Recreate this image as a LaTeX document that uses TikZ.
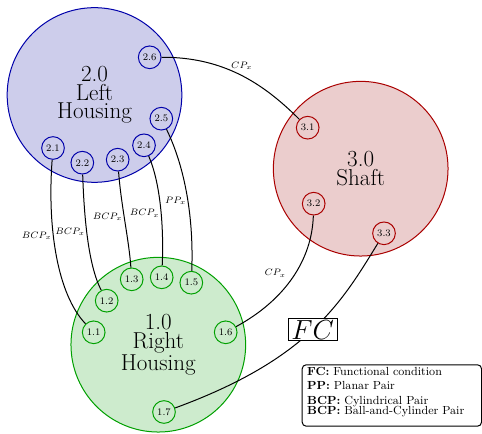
\documentclass[tikz,border=0pt]{standalone}
\usepackage{amsmath}
\usepackage{tikz}
\definecolor{lhdraw}{RGB}{0, 0, 170}
\definecolor{lhfill}{RGB}{205, 205, 235}
\definecolor{shdraw}{RGB}{170, 0, 0}
\definecolor{shfill}{RGB}{235, 205, 205}
\definecolor{rhdraw}{RGB}{0, 160, 0}
\definecolor{rhfill}{RGB}{205, 235, 205}
\tikzset{every picture/.style={line width=0.75pt}}
\tikzset{
  comp/.style={circle, minimum size=131pt, inner sep=0pt, align=center, font=\fontsize{17.28}{14}\selectfont},
  iface/.style={circle, minimum size=17pt, inner sep=0pt, font=\fontsize{7.5}{9}\selectfont},
  jlabel/.style={inner sep=1pt, font=\scriptsize},
  fcbox/.style={draw, fill=white, inner xsep=2.5pt, inner ysep=1.2pt, font=\fontsize{19.5}{22}\selectfont},
  legend/.style={draw, rounded corners=3pt, text width=127pt, align=left, inner xsep=3.75pt, inner ysep=1.7pt, font=\fontsize{8.8}{11}\selectfont}
}

\begin{document}
\begin{tikzpicture}[x=0.75pt,y=0.75pt,yscale=-1,xscale=1]
\useasboundingbox (0,0) rectangle (482,434);

%Shape: Circle [left housing]
\draw (94.5,95) node [comp, draw=lhdraw, fill=lhfill] (lh) {2.0\\Left\\Housing};
%Shape: Circle [shaft]
\draw (360.7,168.7) node [comp, draw=shdraw, fill=shfill] (sh) {3.0\\Shaft};
%Shape: Circle [right housing]
\draw (158.3,344.7) node [comp, draw=rhdraw, fill=rhfill] (rh) {1.0\\Right\\Housing};

% Surfaces of the left housing
\draw (53,148) node [iface, draw=lhdraw] (p21) {2.1};
\draw (82.3,162.7) node [iface, draw=lhdraw] (p22) {2.2};
\draw (117.7,159.7) node [iface, draw=lhdraw] (p23) {2.3};
\draw (144,145.3) node [iface, draw=lhdraw] (p24) {2.4};
\draw (161.3,118.7) node [iface, draw=lhdraw] (p25) {2.5};
\draw (149.7,57.3) node [iface, draw=lhdraw] (p26) {2.6};
% Surfaces of the shaft
\draw (307.7,127.7) node [iface, draw=shdraw] (p31) {3.1};
\draw (313.7,203.7) node [iface, draw=shdraw] (p32) {3.2};
\draw (384,233.3) node [iface, draw=shdraw] (p33) {3.3};
% Surfaces of the right housing
\draw (93.7,332.3) node [iface, draw=rhdraw] (p11) {1.1};
\draw (106.7,300.7) node [iface, draw=rhdraw] (p12) {1.2};
\draw (131.7,279.3) node [iface, draw=rhdraw] (p13) {1.3};
\draw (161.7,277.3) node [iface, draw=rhdraw] (p14) {1.4};
\draw (191.3,282.7) node [iface, draw=rhdraw] (p15) {1.5};
\draw (225.7,332.3) node [iface, draw=rhdraw] (p16) {1.6};
\draw (164,412) node [iface, draw=rhdraw] (p17) {1.7};

%Curve Lines [contacts]
\draw (p26) .. controls (222,57) and (262,82) .. (p31) node [jlabel, pos=0.52, above=3pt] (j1) {$CP_x$};
\draw (p25) .. controls (183,163) and (194,212) .. (p15) node [jlabel, pos=0.57, left] (j2) {$PP_x$};
\draw (p24) .. controls (160,182) and (164,225) .. (p14) node [jlabel, pos=0.57, left] (j3) {$BCP_x$};
\draw (p23) .. controls (121,205) and (129,240) .. (p13) node [jlabel, pos=0.45, left] (j4) {$BCP_x$};
\draw (p22) .. controls (84,215) and (88,265) .. (p12) node [jlabel, pos=0.45, left] (j5) {$BCP_x$};
\draw (p21) .. controls (47,230) and (58,295) .. (p11) node [jlabel, pos=0.38, left] (j6) {$BCP_x$};
\draw (p32) .. controls (312,260) and (285,300) .. (p16) node [jlabel, pos=0.46, left=6pt] (j7) {$CP_x$};
\draw (p33) .. controls (341.5,302.7) and (308.2,359.3) .. (p17) node [fcbox, pos=0.5] (fc) {$FC$};

% Text Node
\draw (301.7,364.3) node [legend, anchor=north west] (key) {\textbf{FC:} Functional condition\\ \textbf{PP:} Planar Pair\\ \textbf{BCP:} Cylindrical Pair\\[-3.5pt] \textbf{BCP:} Ball-and-Cylinder Pair\rule[-7pt]{0pt}{7pt}};

\end{tikzpicture}
\end{document}
